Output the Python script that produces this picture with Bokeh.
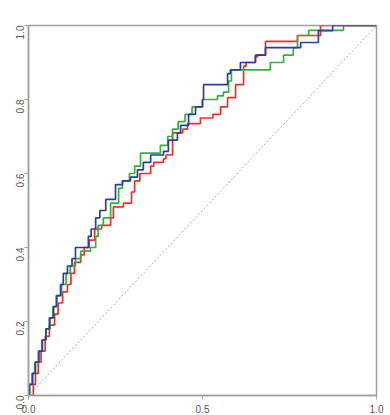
import math
from bokeh.plotting import figure
from bokeh.models import Range1d, FixedTicker, PrintfTickFormatter
from bokeh.embed import file_html
from bokeh.resources import INLINE

# ROC curves: false positive rate / true positive rate at the top of each rise
red_fpr = [0.0, 0.014, 0.02, 0.028, 0.036, 0.048, 0.06, 0.075, 0.085, 0.098, 0.112, 0.122, 0.132,
           0.15, 0.16, 0.175, 0.19, 0.21, 0.236, 0.244, 0.273, 0.296, 0.305, 0.32, 0.351, 0.36,
           0.388, 0.395, 0.414, 0.443, 0.457, 0.494, 0.53, 0.552, 0.572, 0.595, 0.618, 0.625,
           0.652, 0.658, 0.681, 0.773, 0.839, 1.0]
red_tpr = [0.0, 0.03, 0.06, 0.09, 0.12, 0.16, 0.19, 0.22, 0.25, 0.28, 0.30, 0.33, 0.36,
           0.38, 0.40, 0.42, 0.45, 0.46, 0.48, 0.51, 0.52, 0.55, 0.58, 0.60, 0.62, 0.63,
           0.64, 0.65, 0.71, 0.72, 0.735, 0.75, 0.76, 0.78, 0.805, 0.84, 0.89, 0.90,
           0.915, 0.92, 0.957, 0.973, 1.0, 1.0]

green_fpr = [0.0, 0.003, 0.01, 0.018, 0.028, 0.038, 0.05, 0.062, 0.07, 0.082, 0.095, 0.108, 0.12,
             0.135, 0.15, 0.178, 0.193, 0.2, 0.215, 0.236, 0.259, 0.27, 0.29, 0.305, 0.322,
             0.379, 0.40, 0.414, 0.43, 0.45, 0.47, 0.50, 0.543, 0.56, 0.575, 0.583, 0.695,
             0.733, 0.761, 0.773, 0.805, 0.905, 1.0]
green_tpr = [0.0, 0.03, 0.06, 0.09, 0.12, 0.15, 0.18, 0.21, 0.24, 0.27, 0.30, 0.33, 0.35,
             0.37, 0.39, 0.40, 0.43, 0.46, 0.48, 0.52, 0.56, 0.58, 0.60, 0.62, 0.655,
             0.676, 0.70, 0.72, 0.74, 0.76, 0.78, 0.80, 0.81, 0.82, 0.85, 0.88, 0.90,
             0.92, 0.94, 0.973, 0.987, 1.0, 1.0]

blue_fpr = [0.0, 0.003, 0.012, 0.02, 0.03, 0.04, 0.05, 0.06, 0.072, 0.08, 0.092, 0.1, 0.112,
            0.125, 0.135, 0.172, 0.18, 0.193, 0.205, 0.222, 0.25, 0.27, 0.293, 0.313, 0.33,
            0.351, 0.388, 0.402, 0.428, 0.437, 0.46, 0.48, 0.50, 0.503, 0.572, 0.58, 0.609,
            0.652, 0.681, 0.782, 0.833, 0.874, 1.0]
blue_tpr = [0.0, 0.03, 0.06, 0.09, 0.12, 0.15, 0.18, 0.21, 0.24, 0.27, 0.30, 0.33, 0.35,
            0.37, 0.40, 0.43, 0.45, 0.48, 0.50, 0.53, 0.57, 0.58, 0.59, 0.61, 0.63,
            0.65, 0.66, 0.69, 0.71, 0.73, 0.76, 0.78, 0.80, 0.84, 0.87, 0.88, 0.90,
            0.92, 0.94, 0.954, 0.986, 1.0, 1.0]

diag = [0.0, 1.0]
x_ticks = [0.0, 0.5, 1.0]
y_ticks = [0.0, 0.2, 0.4, 0.6, 0.8, 1.0]

p = figure(width=390, height=415, output_backend="svg", toolbar_location=None,
           x_range=Range1d(0, 1), y_range=Range1d(0, 1),
           min_border_left=28, min_border_right=14, min_border_top=25, min_border_bottom=20)
p.xgrid.visible = False
p.ygrid.visible = False
p.background_fill_color = "white"
p.border_fill_color = "white"
p.outline_line_color = "#a0a0a0"
p.outline_line_width = 1.5

for ax, ticks in ((p.xaxis[0], x_ticks), (p.yaxis[0], y_ticks)):
    ax.ticker = FixedTicker(ticks=ticks)
    ax.formatter = PrintfTickFormatter(format="%.1f")
    ax.axis_line_color = "#a0a0a0"
    ax.axis_line_width = 1.5
    ax.major_tick_line_color = "#a0a0a0"
    ax.major_tick_out = 4
    ax.major_tick_in = 0
    ax.minor_tick_line_color = None
    ax.major_label_text_font = "Liberation Sans"
    ax.major_label_text_font_size = "10px"
    ax.major_label_text_color = "#555555"
p.xaxis[0].major_label_standoff = 5
p.yaxis[0].major_label_standoff = 5
p.yaxis[0].major_label_orientation = math.pi / 2

p.line(diag, diag, line_color="#aaaaaa", line_width=1, line_dash="2 2")
p.step(red_fpr, red_tpr, mode="after", line_color="#e8302c", line_width=1.7)
p.step(green_fpr, green_tpr, mode="after", line_color="#3aae3a", line_width=1.7)
p.step(blue_fpr, blue_tpr, mode="after", line_color="#2b3f9e", line_width=1.7)

open("out.html", "w").write(file_html(p, INLINE))
